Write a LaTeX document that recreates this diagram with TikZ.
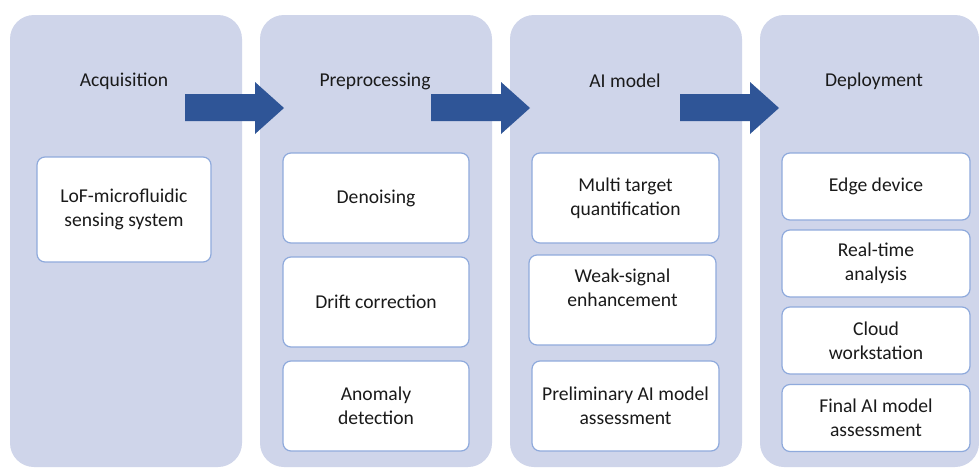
\documentclass[tikz,border=0pt]{standalone}
\usepackage{fontspec}
\setmainfont{Carlito}
\begin{document}
\begin{tikzpicture}[x=0.75pt,y=-0.75pt,
  lane/.style={fill=laneC, draw=none, rounded corners=18pt, inner sep=0pt},
  box/.style={fill=white, draw=boxB, line width=0.9pt, rounded corners=6pt, inner sep=0pt, align=center, text=txtC, font=\fontsize{14.7}{18}\selectfont},
  ttl/.style={text=txtC, font=\fontsize{14.7}{18}\selectfont, inner sep=0pt},
  txt/.style={text=txtC, font=\fontsize{14.7}{18}\selectfont, align=center, inner sep=0pt},
  blockarrow/.style={fill=arrC, draw=none}]
\definecolor{laneC}{HTML}{CFD5EA}
\definecolor{boxB}{HTML}{8FAADC}
\definecolor{arrC}{HTML}{2F5597}
\definecolor{txtC}{HTML}{1A1A1A}
\useasboundingbox (0,0) rectangle (979,468);
\fill[white] (0,0) rectangle (979,468);
% lanes
\node[lane, minimum width=174pt, minimum height=339pt] (L1) at (126,241) {};
\node[lane, minimum width=174pt, minimum height=339pt] (L2) at (376,241) {};
\node[lane, minimum width=174pt, minimum height=339pt] (L3) at (626,241) {};
\node[lane, minimum width=164.25pt, minimum height=339pt] (L4) at (869.5,241) {};
% titles
\node[ttl] (T1) at (124,81) {Acquisition};
\node[ttl] (T2) at (375,81) {Preprocessing};
\node[ttl] (T3) at (625,81) {AI model};
\node[ttl] (T4) at (874,81) {Deployment};
% arrows
\foreach \s in {185,431,680}{
  \fill[blockarrow] (\s,94) -- (\s+70,94) -- (\s+70,82) -- (\s+99,108) -- (\s+70,134) -- (\s+70,121) -- (\s,121) -- cycle;
}
% lane 1
\node[box, minimum width=130.5pt, minimum height=78.75pt] (B11) at (124,209.5) {LoF-microfluidic\\sensing system};
% lane 2
\node[box, minimum width=139.5pt, minimum height=67.5pt] (B21) at (376,198) {Denoising};
\node[box, minimum width=139.5pt, minimum height=67.5pt] (B22) at (376,302) {Drift correction};
\node[box, minimum width=139.5pt, minimum height=67.5pt] (B23) at (376,406) {Anomaly\\detection};
% lane 3
\node[box, minimum width=140.25pt, minimum height=67.5pt] (B31) at (625.5,198) {Multi target\\quantification};
\node[box, minimum width=140.25pt, minimum height=67.5pt] (B32) at (622.5,300) {};
\node[txt] (B32t) at (622.5,288) {Weak-signal\\enhancement};
\node[box, minimum width=140.25pt, minimum height=67.5pt] (B33) at (625.5,406) {Preliminary AI model\\assessment};
% lane 4
\node[box, minimum width=141pt, minimum height=50.25pt] (B41) at (876,186.5) {Edge device};
\node[box, minimum width=141pt, minimum height=50.25pt] (B42) at (876,263.5) {Real-time\\analysis};
\node[box, minimum width=141pt, minimum height=50.25pt] (B43) at (876,340.5) {Cloud\\workstation};
\node[box, minimum width=141pt, minimum height=50.25pt] (B44) at (876,418) {Final AI model\\assessment};
\end{tikzpicture}
\end{document}
